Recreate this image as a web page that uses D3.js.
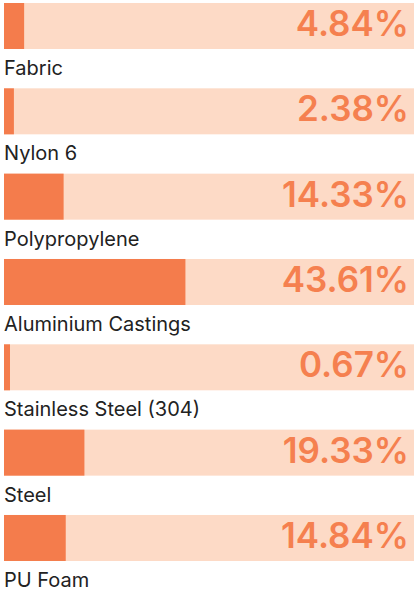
<!DOCTYPE html>
<html>
<head>
<meta charset="utf-8">
<script src="https://cdn.jsdelivr.net/npm/d3@7"></script>
<style>
  body { margin: 0; background: #fff; }
  svg { display: block; }
</style>
</head>
<body>
<div id="chart"></div>
<script>
const materials = ['Fabric', 'Nylon 6', 'Polypropylene', 'Aluminium Castings', 'Stainless Steel (304)', 'Steel', 'PU Foam'];
const shares = [4.84, 2.38, 14.33, 43.61, 0.67, 19.33, 14.84];

const width = 414, height = 591;
const left = 4, right = 414;
const barH = 46;

const svg = d3.select('#chart')
    .append('svg')
    .attr('width', width)
    .attr('height', height);

const y = d3.scaleBand()
    .domain(materials)
    .range([3, 3 + 85.33 * materials.length]);

const x = d3.scaleLinear()
    .domain([0, 100])
    .range([0, 416]);

const rows = svg.selectAll('g.row')
    .data(materials.map((m, i) => ({name: m, value: shares[i]})))
    .join('g')
    .attr('class', 'row')
    .attr('transform', d => `translate(0,${y(d.name)})`);

// track
rows.append('rect')
    .attr('x', left)
    .attr('width', right - left)
    .attr('height', barH)
    .attr('fill', '#fddac6');

// value bar
rows.append('rect')
    .attr('x', left)
    .attr('width', d => Math.max(x(d.value), 6))
    .attr('height', barH)
    .attr('fill', '#f47c4c');

rows.append('text')
    .attr('x', 409)
    .attr('y', 33)
    .attr('text-anchor', 'end')
    .style('font-family', 'Inter, sans-serif')
    .style('font-weight', 600)
    .style('font-size', '35px')
    .style('fill', '#f5804f')
    .text(d => d.value.toFixed(2) + '%');

rows.append('text')
    .attr('x', 4)
    .attr('y', 72)
    .style('font-family', 'Inter, sans-serif')
    .style('font-size', '20px')
    .style('fill', '#222')
    .text(d => d.name);
</script>
</body>
</html>
